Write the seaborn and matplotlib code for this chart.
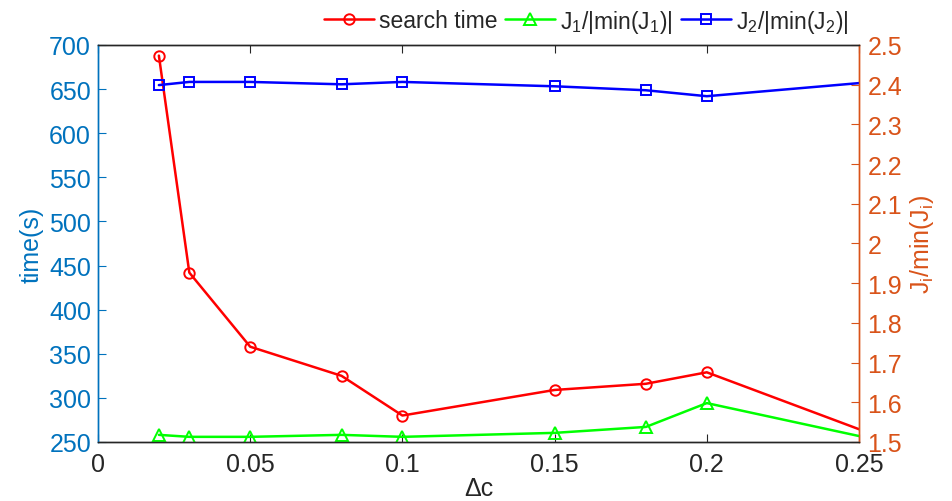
import matplotlib
matplotlib.use("Agg")
import matplotlib.pyplot as plt
import seaborn as sns
import pandas as pd
import numpy as np

# data
dc = [0.02, 0.03, 0.05, 0.08, 0.10, 0.15, 0.18, 0.20, 0.30]
search_time = [688, 442, 358, 325, 280, 309, 316, 329, 200]
j1_ratio = [1.518, 1.513, 1.513, 1.518, 1.513, 1.523, 1.538, 1.598, 1.432]
j2_ratio = [2.399, 2.407, 2.407, 2.401, 2.407, 2.396, 2.386, 2.371, 2.437]

left_ticks = [250, 300, 350, 400, 450, 500, 550, 600, 650, 700]
right_ticks = [1.5, 1.6, 1.7, 1.8, 1.9, 2.0, 2.1, 2.2, 2.3, 2.4, 2.5]
right_labels = ["1.5", "1.6", "1.7", "1.8", "1.9", "2", "2.1", "2.2", "2.3", "2.4", "2.5"]
x_ticks = [0, 0.05, 0.1, 0.15, 0.2, 0.25]
x_labels = ["0", "0.05", "0.1", "0.15", "0.2", "0.25"]

sns.set_style("white")
plt.rcParams['font.family'] = ['Liberation Sans', 'DejaVu Sans']
plt.rcParams['mathtext.default'] = 'regular'

BLUE = "#0072BD"
ORANGE = "#D95319"
DARK = "#262626"

fig = plt.figure(figsize=(9.52, 5.02), dpi=100)
ax = fig.add_axes([98/952, 1-443/502, (859-98)/952, (443-46)/502])
ax2 = ax.twinx()

df = pd.DataFrame({"dc": dc, "time": search_time, "j1": j1_ratio, "j2": j2_ratio})

sns.lineplot(data=df, x="dc", y="time", ax=ax, color="#FF0000", lw=1.8,
             marker="o", markersize=7.5, markerfacecolor="none",
             markeredgecolor="#FF0000", markeredgewidth=1.4, label="search time", legend=False)
sns.lineplot(data=df, x="dc", y="j1", ax=ax2, color="#00FF00", lw=1.8,
             marker="^", markersize=8.5, markerfacecolor="none",
             markeredgecolor="#00FF00", markeredgewidth=1.4, label="J$_1$/|min(J$_1$)|", legend=False)
sns.lineplot(data=df, x="dc", y="j2", ax=ax2, color="#0000FF", lw=1.8,
             marker="s", markersize=7, markerfacecolor="none",
             markeredgecolor="#0000FF", markeredgewidth=1.4, label="J$_2$/|min(J$_2$)|", legend=False)

ax.set_xlim(0, 0.25)
ax.set_ylim(250, 700)
ax2.set_ylim(1.5, 2.5)
ax.set_xticks(x_ticks)
ax.set_xticklabels(x_labels)
ax.set_yticks(left_ticks)
ax.set_yticklabels([str(t) for t in left_ticks])
ax2.set_yticks(right_ticks)
ax2.set_yticklabels(right_labels)

ax.tick_params(axis="x", direction="in", length=6, colors=DARK, labelsize=18, top=True, pad=7)
ax.tick_params(axis="y", direction="in", length=6, colors=BLUE, labelsize=18, pad=5)
ax2.tick_params(axis="y", direction="in", length=6, colors=ORANGE, labelsize=18, pad=6)
ax.xaxis.set_ticks_position("both")

for a in (ax, ax2):
    a.spines["top"].set_color(DARK)
    a.spines["bottom"].set_color(DARK)
    a.spines["left"].set_color(BLUE)
    a.spines["right"].set_color(ORANGE)
    for s in a.spines.values():
        s.set_linewidth(1.0)

ax.set_xlabel("Δc", fontsize=18, color=DARK, labelpad=0)
ax.set_ylabel("time(s)", fontsize=18, color=BLUE, labelpad=4)
ax2.set_ylabel("J$_i$/min(J$_i$)", fontsize=18, color=ORANGE, labelpad=4)

h1, l1 = ax.get_legend_handles_labels()
h2, l2 = ax2.get_legend_handles_labels()
fig.legend(h1 + h2, l1 + l2, loc="center", bbox_to_anchor=(586/952, 1-22/502),
           ncol=3, frameon=False, fontsize=16.5, handlelength=2.2, handletextpad=0.2,
           columnspacing=0.35, borderpad=0.1)

fig.savefig("out.png", dpi=100)
